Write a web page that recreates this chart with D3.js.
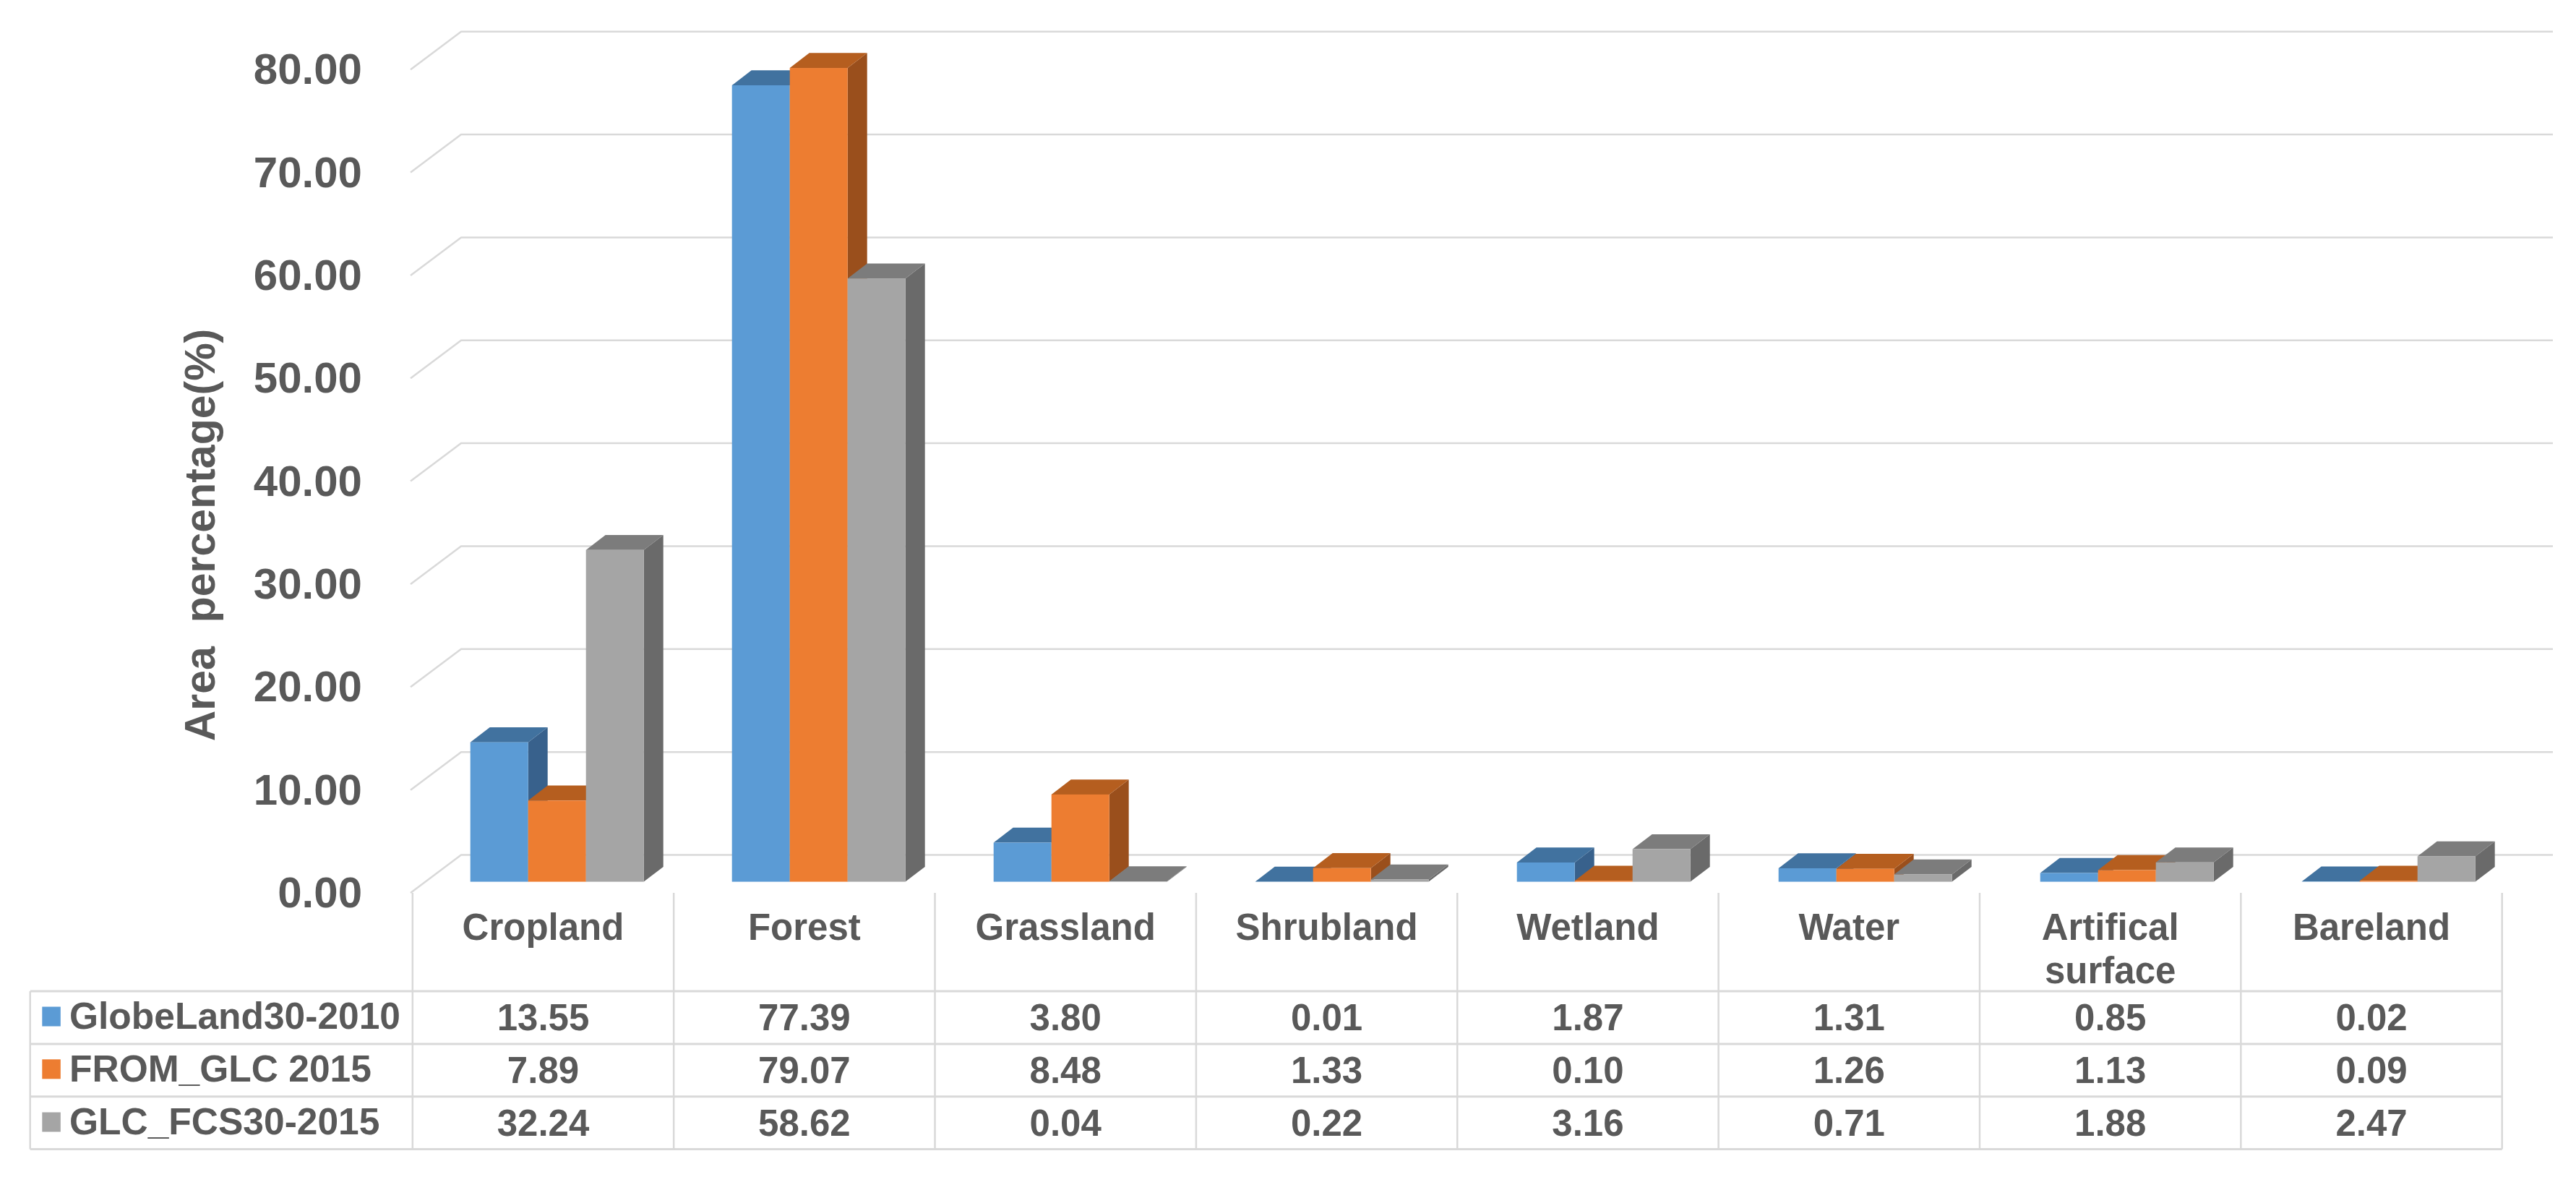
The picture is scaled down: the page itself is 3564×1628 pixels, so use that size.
<!DOCTYPE html>
<html><head><meta charset="utf-8">
<script src="https://cdn.jsdelivr.net/npm/d3@7"></script>
<style>html,body{margin:0;padding:0;background:#fff}svg{display:block}text{font-family:"Liberation Sans",Arial,sans-serif;font-weight:700;fill:#595959}</style>
</head><body><svg id="c" width="3564" height="1628"></svg>
<script>
const categories = ["Cropland","Forest","Grassland","Shrubland","Wetland","Water","Artifical surface","Bareland"];
const seriesNames = ["GlobeLand30-2010","FROM_GLC 2015","GLC_FCS30-2015"];
const globeLand = [13.55,77.39,3.80,0.01,1.87,1.31,0.85,0.02];
const fromGlc = [7.89,79.07,8.48,1.33,0.10,1.26,1.13,0.09];
const glcFcs = [32.24,58.62,0.04,0.22,3.16,0.71,1.88,2.47];
const tickValues = [0,10,20,30,40,50,60,70,80];
const axisTitle = "Area  percentage(%)";
const frontColors = ["#5B9BD5","#ED7D31","#A5A5A5"];
const topColors = ["#41729F","#B55E1F","#7C7C7C"];
const sideColors = ["#38618C","#9A4F1C","#6A6A6A"];

const seriesValues = [globeLand, fromGlc, glcFcs];
const svg = d3.select("#c");
const y = d3.scaleLinear().domain([0,80]).range([1235,1235-80*14.235]);
const cell = d3.scaleBand().domain(categories).range([570.8,3461.7]);
const barBand = d3.scaleBand().domain(categories).range([570.7,3466.7]);
const inner = d3.scaleBand().domain(d3.range(3)).range([80,80+3*80]);
const grid = "#D9D9D9";

// back wall gridlines
const gx0=568, gx1=638, gx2=3532, gdy=52.5;
svg.append("g").selectAll("path").data(tickValues).join("path")
  .attr("d",v=>`M${gx0},${y(v)}L${gx1},${y(v)-gdy}L${gx2},${y(v)-gdy}`)
  .attr("fill","none").attr("stroke",grid).attr("stroke-width",2.5);

// y axis labels
const axis = d3.axisLeft(y).tickValues(tickValues).tickFormat(d3.format(".2f")).tickSize(0).tickPadding(0);
const ag = svg.append("g").attr("transform","translate(501,0.3)").call(axis);
ag.select(".domain").remove();
ag.selectAll("text").style("font-size","60px").style("font-family",'"Liberation Sans"').style("font-weight",700).attr("fill","#595959");

svg.append("text").attr("transform","translate(297,740) rotate(-90)")
  .attr("text-anchor","middle").style("font-size","59px").style("white-space","pre")
  .attr("xml:space","preserve").text(axisTitle);

// 3D bars
const baseShift=15.4, bw=80, ddx=27, ddy=20.7;
const bars = svg.append("g");
categories.forEach((c,ci)=>{
  seriesValues.forEach((vals,si)=>{
    const x=barBand(c)+inner(si), b=y(0)-baseShift, t=y(vals[ci])-baseShift;
    const g=bars.append("g");
    g.append("path").attr("fill",sideColors[si])
      .attr("d",`M${x+bw},${b}L${x+bw+ddx},${b-ddy}L${x+bw+ddx},${t-ddy}L${x+bw},${t}Z`);
    g.append("path").attr("fill",topColors[si])
      .attr("d",`M${x},${t}L${x+ddx},${t-ddy}L${x+bw+ddx},${t-ddy}L${x+bw},${t}Z`);
    g.append("rect").attr("fill",frontColors[si]).attr("x",x).attr("y",t).attr("width",bw).attr("height",b-t);
  });
});

// data table
const rowLines=[1371,1444,1516.7,1589.5], tableLeft=41.7, tableRight=3461.7, tableTop=1235;
const t=svg.append("g");
t.selectAll("line.h").data(rowLines).join("line").attr("class","h")
  .attr("x1",tableLeft).attr("x2",tableRight).attr("y1",d=>d).attr("y2",d=>d)
  .attr("stroke",grid).attr("stroke-width",3);
const vx=[...categories.map(c=>cell(c)),tableRight];
t.selectAll("line.v").data(vx).join("line").attr("class","v")
  .attr("x1",d=>d).attr("x2",d=>d).attr("y1",tableTop).attr("y2",1589.5)
  .attr("stroke",grid).attr("stroke-width",2.5);
t.append("line").attr("x1",tableLeft).attr("x2",tableLeft).attr("y1",1371).attr("y2",1589.5).attr("stroke",grid).attr("stroke-width",2.5);

categories.forEach(c=>{
  const cx=cell(c)+cell.bandwidth()/2;
  const txt=t.append("text").attr("text-anchor","middle").style("font-size","51px");
  c.split(" ").forEach((w,i)=>txt.append("tspan").attr("x",cx).attr("y",1300+i*60).text(w));
});
const rowBase=[1424.5,1497.5,1571], legendBase=[1422.5,1496,1569], swatchTop=[1392.5,1465.3,1538.5];
seriesNames.forEach((n,si)=>{
  t.append("rect").attr("x",58.3).attr("y",swatchTop[si]).attr("width",25.5).attr("height",27).attr("fill",frontColors[si]);
  t.append("text").attr("x",96).attr("y",legendBase[si]).style("font-size","51.5px").text(n);
  categories.forEach((c,ci)=>{
    t.append("text").attr("x",cell(c)+cell.bandwidth()/2).attr("y",rowBase[si]).attr("text-anchor","middle")
      .style("font-size","51px").text(d3.format(".2f")(seriesValues[si][ci]));
  });
});
</script></body></html>
